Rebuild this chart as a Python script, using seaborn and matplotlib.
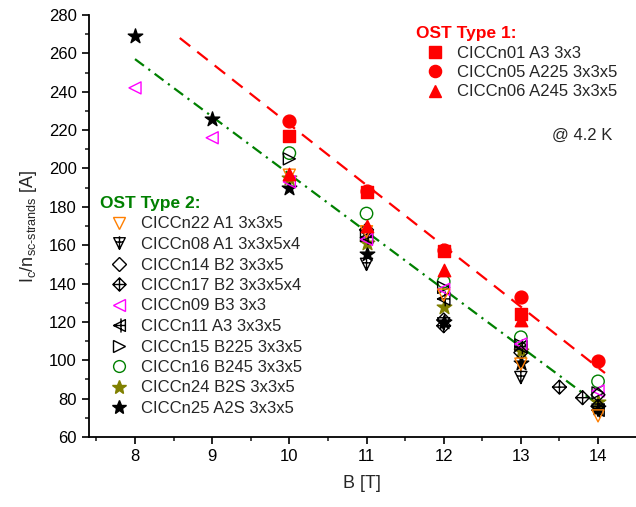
import numpy as np
import pandas as pd
import seaborn as sns
import matplotlib
matplotlib.use("Agg")
import matplotlib.pyplot as plt
from matplotlib.path import Path
from matplotlib.lines import Line2D
from matplotlib.ticker import MultipleLocator

# ---------------- data ----------------
# OST Type 1
n01_x = [10, 11, 12, 13]
n01_y = [217, 187.5, 157, 124]
n05_x = [10, 11, 12, 13, 14]
n05_y = [225, 188.5, 157.5, 133, 99.5]
n06_x = [10, 11, 12, 13]
n06_y = [197, 170, 147, 121]
# OST Type 2
n22_x = [10, 11, 12, 13, 14]
n22_y = [196.5, 167, 134, 98, 71]
n08_x = [11, 12, 13, 14]
n08_y = [150, 119, 91, 74]
n14_x = [11, 12, 13, 14]
n14_y = [168, 121, 104, 82]
n17_x = [12, 13.5, 13.8, 14]
n17_y = [118, 86, 80.5, 76]
n09_x = [8, 9, 10, 11, 12, 13, 14]
n09_y = [242, 216, 193, 163, 137, 108.5, 84]
n11_x = [11, 12, 13, 14]
n11_y = [164, 132, 107, 74]
n15_x = [10, 11, 12, 13, 14]
n15_y = [205, 165, 138, 108, 83]
n16_x = [10, 11, 12, 13, 14]
n16_y = [208, 176.5, 141, 112, 89]
n24_x = [10, 11, 12, 13, 14]
n24_y = [195, 161, 128, 105, 78]
n25_x = [8, 9, 10, 11, 12, 13, 14]
n25_y = [269, 226, 190, 155.5, 120, 98.5, 75]

# linear fits (slope, intercept) and x-range
fit1_coef = [-31.7, 540.0]
fit1_range = [8.58, 14.09]
fit2_coef = [-30.0, 497.0]
fit2_range = [8.0, 14.05]

labels1 = ["CICCn01 A3 3x3", "CICCn05 A225 3x3x5", "CICCn06 A245 3x3x5"]
labels2 = ["CICCn22 A1 3x3x5", "CICCn08 A1 3x3x5x4", "CICCn14 B2 3x3x5",
           "CICCn17 B2 3x3x5x4", "CICCn09 B3 3x3", "CICCn11 A3 3x3x5",
           "CICCn15 B225 3x3x5", "CICCn16 B245 3x3x5", "CICCn24 B2S 3x3x5",
           "CICCn25 A2S 3x3x5"]

# ---------------- custom markers ----------------
def crossed(poly, lines):
    v, c = [], []
    v += list(poly) + [poly[0]]
    c += [Path.MOVETO] + [Path.LINETO] * (len(poly) - 1) + [Path.CLOSEPOLY]
    for a, b in lines:
        v += [a, b]
        c += [Path.MOVETO, Path.LINETO]
    return Path(v, c)

m_vcross = crossed([(-1, 1), (1, 1), (0, -1)], [((0, 1.25), (0, -1)), ((-0.6, 0.25), (0.6, 0.25))])
m_dcross = crossed([(0, 1), (1, 0), (0, -1), (-1, 0)], [((0, 1), (0, -1)), ((-1, 0), (1, 0))])
m_lcross = crossed([(-1, 0), (1, 1), (1, -1)], [((0.25, -1.2), (0.25, 1.2)), ((-1, 0), (1, 0))])

RED = "#FF0000"
GREEN = "#008000"
ORANGE = "#FF7F00"
MAGENTA = "#FF00FF"
OLIVE = "#808000"
BLACK = "#000000"

type1 = [
    (n01_x, n01_y, "s", RED, True, 70),
    (n05_x, n05_y, "o", RED, True, 85),
    (n06_x, n06_y, "^", RED, True, 80),
]
type2 = [
    (n22_x, n22_y, "v", ORANGE, False, 75),
    (n08_x, n08_y, m_vcross, BLACK, False, 120),
    (n14_x, n14_y, "D", BLACK, False, 50),
    (n17_x, n17_y, m_dcross, BLACK, False, 100),
    (n09_x, n09_y, "<", MAGENTA, False, 75),
    (n11_x, n11_y, m_lcross, BLACK, False, 115),
    (n15_x, n15_y, ">", BLACK, False, 75),
    (n16_x, n16_y, "o", GREEN, False, 80),
    (n24_x, n24_y, "*", OLIVE, True, 120),
    (n25_x, n25_y, "*", BLACK, True, 120),
]

# ---------------- figure ----------------
sns.set_style("ticks")
plt.rcParams["font.family"] = ["Liberation Sans", "DejaVu Sans"]
plt.rcParams["mathtext.fontset"] = "custom"
plt.rcParams["mathtext.rm"] = "Liberation Sans"
plt.rcParams["mathtext.it"] = "Liberation Sans"

fig = plt.figure(figsize=(6.36, 5.07), dpi=100)
W, H = 636, 507
ax = fig.add_axes([88.7 / W, (H - 437) / H, (W - 88.7) / W, 422 / H])

# fit lines
for coef, rng, col, ls in [(fit1_coef, fit1_range, RED, (0, (6, 4))),
                           (fit2_coef, fit2_range, GREEN, (0, (5, 2.5, 1, 2.5)))]:
    xs = np.array(rng)
    df_line = pd.DataFrame({"x": xs, "y": coef[0] * xs + coef[1]})
    sns.lineplot(data=df_line, x="x", y="y", color=col, lw=1.6, linestyle=ls, ax=ax, zorder=1)

for xs, ys, mk, col, filled, s in type2[::-1] + type1[::-1]:
    df = pd.DataFrame({"x": xs, "y": ys})
    sns.scatterplot(data=df, x="x", y="y", marker=mk, s=s,
                    facecolor=(col if filled else "none"), edgecolor=col,
                    linewidth=1.0, ax=ax, zorder=3)

ax.set_xlim(7.4, 7.4 + (W - 88.7) / 77.17)
ax.set_ylim(60, 280)
ax.xaxis.set_major_locator(MultipleLocator(1))
ax.xaxis.set_minor_locator(MultipleLocator(0.5))
ax.yaxis.set_major_locator(MultipleLocator(20))
ax.yaxis.set_minor_locator(MultipleLocator(10))
ax.set_xticks(range(8, 15))
ax.tick_params(which="major", direction="out", length=5, width=1.2, labelsize=12, colors="black")
ax.tick_params(which="minor", direction="out", length=3, width=1.2)
for sp in ["top", "right"]:
    ax.spines[sp].set_visible(False)
for sp in ["left", "bottom"]:
    ax.spines[sp].set_linewidth(1.3)
    ax.spines[sp].set_color("black")

ax.set_xlabel("B [T]", fontsize=13, labelpad=8)
ax.set_ylabel(r"I$_\mathregular{c}$/n$_\mathregular{sc‐strands}$ [A]", fontsize=13, labelpad=7)

# legends
def handles_for(group):
    hs = []
    for xs, ys, mk, col, filled, s in group:
        ms = np.sqrt(s)
        hs.append(Line2D([], [], ls="none", marker=mk, markersize=ms * 0.95,
                         markerfacecolor=(col if filled else "none"),
                         markeredgecolor=col, markeredgewidth=1.0))
    return hs

fs = 12
leg1 = ax.legend(handles_for(type1), labels1, title="OST Type 1:", loc="upper left",
                 bbox_to_anchor=(416 / W, (H - 26) / H), bbox_transform=fig.transFigure,
                 frameon=False, fontsize=fs, title_fontproperties={"weight": "bold", "size": 12.5},
                 alignment="left", handlelength=2.3, handletextpad=0.15,
                 labelspacing=0.27, borderpad=0, borderaxespad=0)
leg1.get_title().set_color(RED)
ax.add_artist(leg1)

leg2 = ax.legend(handles_for(type2), labels2, title="OST Type 2:", loc="upper left",
                 bbox_to_anchor=(100 / W, (H - 196) / H), bbox_transform=fig.transFigure,
                 frameon=False, fontsize=fs, title_fontproperties={"weight": "bold", "size": 12.5},
                 alignment="left", handlelength=2.3, handletextpad=0.15,
                 labelspacing=0.33, borderpad=0, borderaxespad=0)
leg2.get_title().set_color(GREEN)

fig.text(552 / W, 1 - 135 / H, "@ 4.2 K", fontsize=12, va="center", ha="left")

fig.savefig("out.png", dpi=100)
